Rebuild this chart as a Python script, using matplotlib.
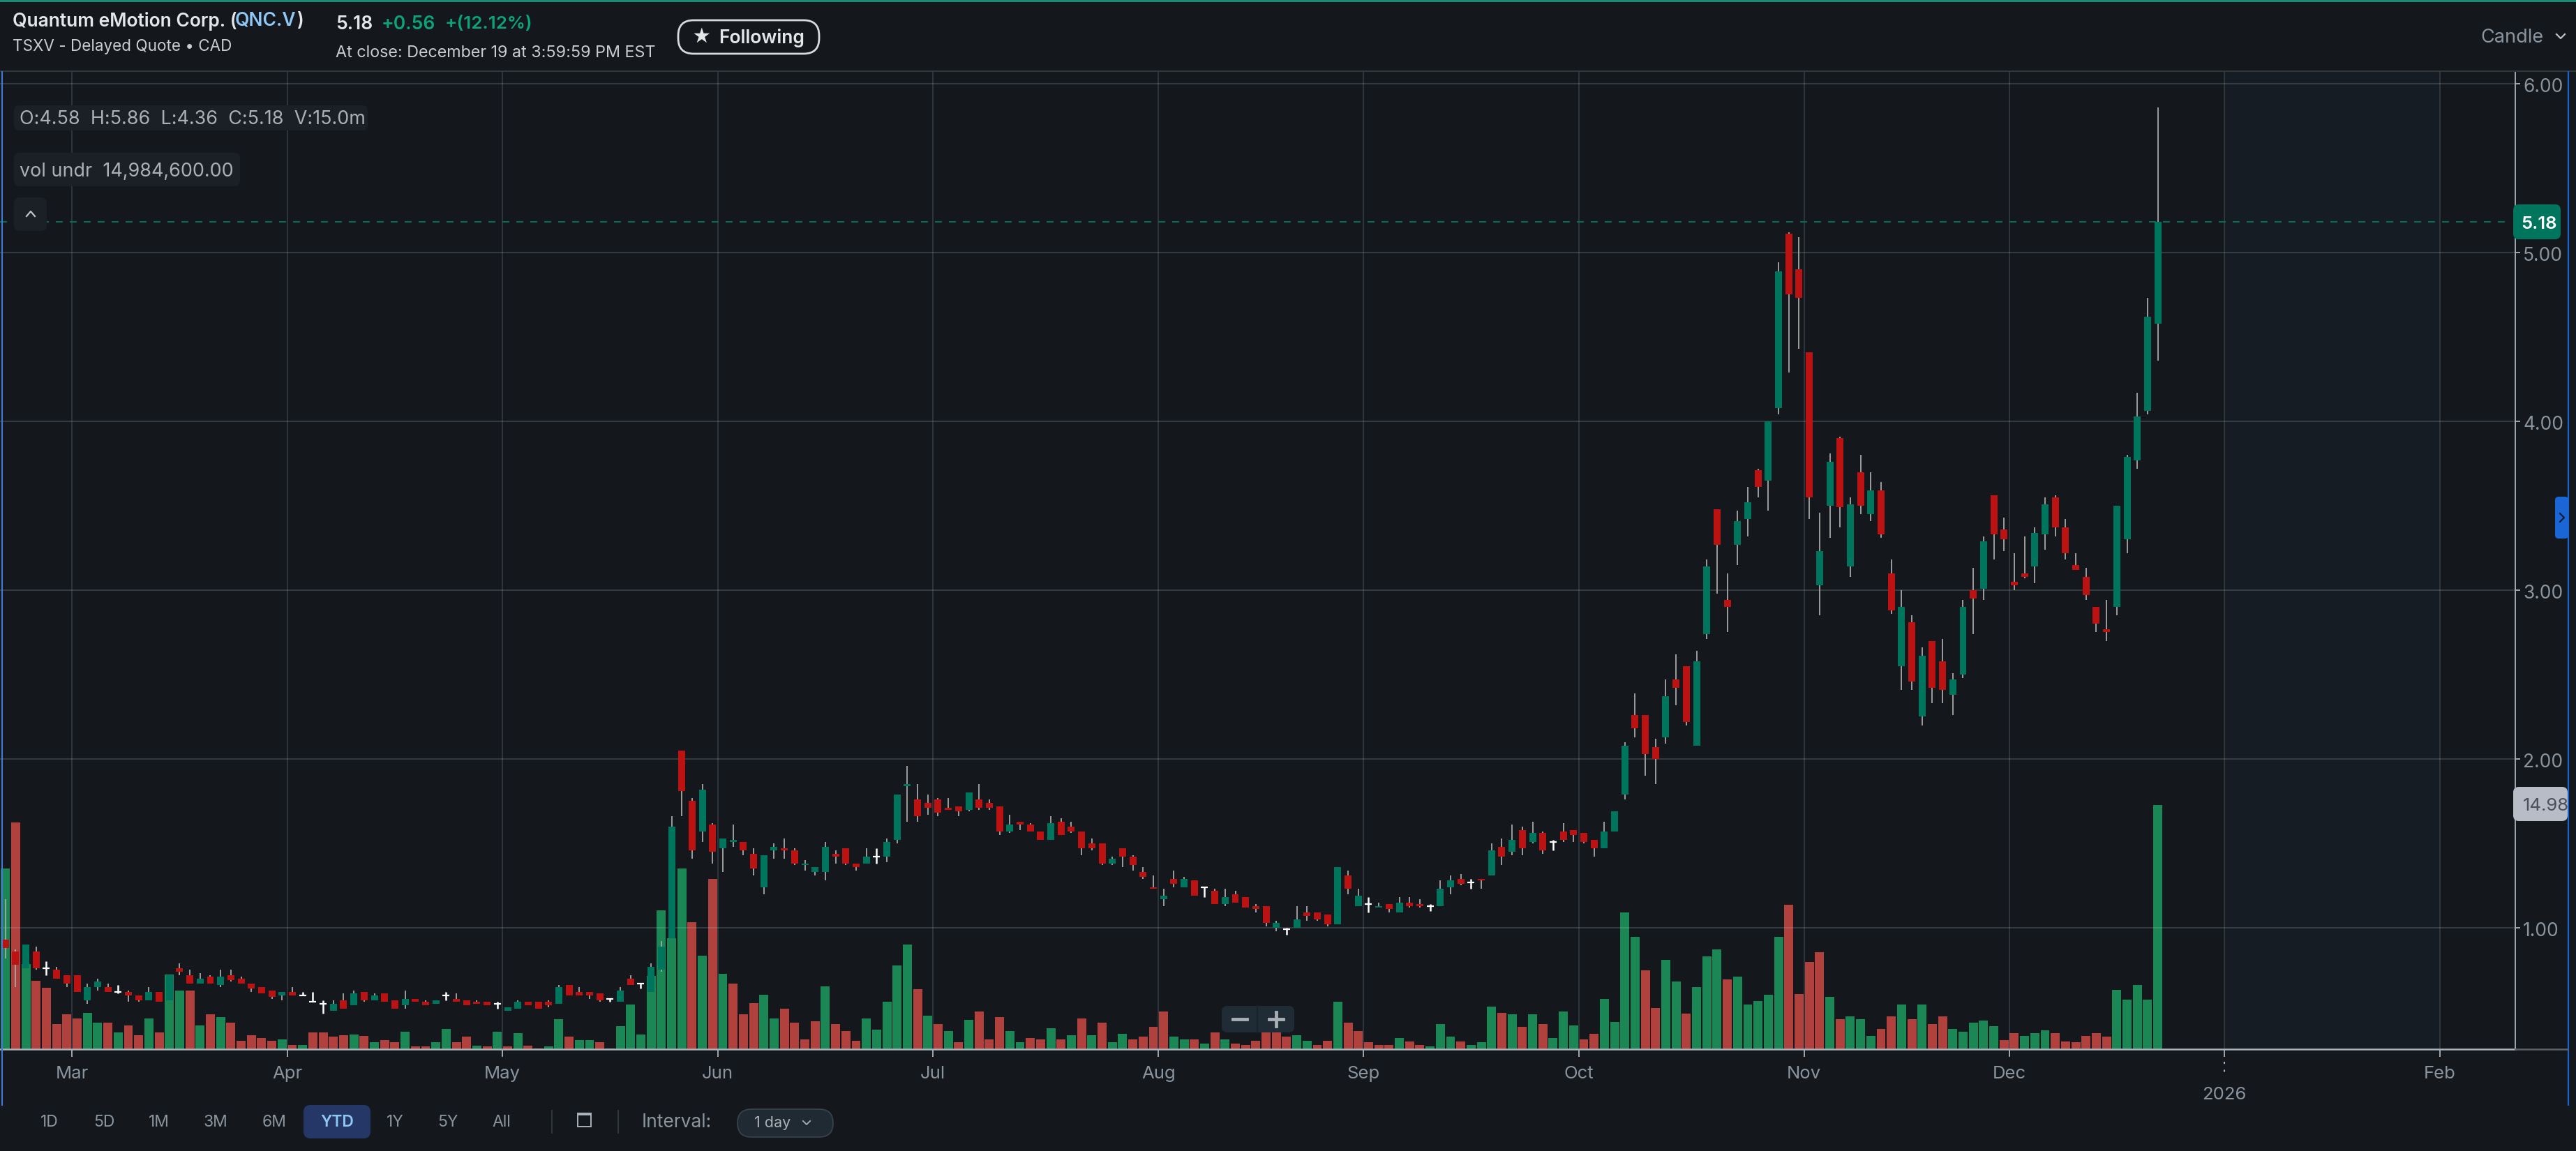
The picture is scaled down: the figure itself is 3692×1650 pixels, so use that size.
import matplotlib
matplotlib.use("Agg")
import matplotlib.pyplot as plt
from matplotlib.patches import FancyBboxPatch, Rectangle
from matplotlib.transforms import ScaledTranslation

plt.rcParams["font.family"] = ["Inter", "DejaVu Sans"]

# daily candles, 0 = late Feb, last = Dec 19
opens = [
    .93, .86, .76, .86, .76, .75, .72, .72, .57, .65,
    .65, .62, .62, .60, .57, .62, .57, .76, .72, .67,
    .71, .66, .72, .70, .67, .65, .63, .60, .62, .60,
    .56, .55, .51, .57, .54, .62, .57, .61, .57, .54,
    .58, .56, .55, .60, .58, .57, .56, .56, .55, .51,
    .52, .56, .56, .56, .55, .66, .62, .62, .61, .58,
    .56, .70, .67, .62, .75, .94, 2.05, 1.75, 1.57, 1.61,
    1.47, 1.51, 1.51, 1.44, 1.24, 1.46, 1.47, 1.46, 1.37, 1.33,
    1.33, 1.44, 1.47, 1.38, 1.38, 1.42, 1.42, 1.52, 1.84, 1.76,
    1.74, 1.76, 1.71, 1.72, 1.70, 1.76, 1.74, 1.72, 1.57, 1.63,
    1.61, 1.57, 1.52, 1.63, 1.60, 1.57, 1.50, 1.50, 1.38, 1.47,
    1.42, 1.33, 1.24, 1.17, 1.29, 1.24, 1.28, 1.24, 1.22, 1.14,
    1.20, 1.18, 1.13, 1.13, 1.00, .99, 1.00, 1.09, 1.09, 1.08,
    1.02, 1.31, 1.13, 1.14, 1.12, 1.14, 1.09, 1.15, 1.14, 1.13,
    1.13, 1.24, 1.29, 1.27, 1.29, 1.31, 1.48, 1.45, 1.58, 1.51,
    1.56, 1.51, 1.57, 1.58, 1.56, 1.52, 1.47, 1.57, 1.79, 2.26,
    2.26, 2.07, 2.13, 2.47, 2.55, 2.08, 2.74, 3.48, 2.94, 3.27,
    3.42, 3.71, 3.65, 4.08, 5.11, 4.90, 4.41, 3.03, 3.50, 3.90,
    3.14, 3.70, 3.45, 3.59, 3.10, 2.55, 2.81, 2.25, 2.70, 2.58,
    2.38, 2.50, 3.00, 3.01, 3.56, 3.36, 3.05, 3.10, 3.14, 3.33,
    3.55, 3.37, 3.15, 3.08, 2.90, 2.77, 2.90, 3.30, 3.77, 4.06,
    4.58,
]
highs = [
    1.17, .87, .90, .89, .80, .77, .72, .72, .67, .70,
    .67, .66, .63, .60, .65, .62, .72, .79, .75, .73,
    .72, .75, .75, .71, .67, .65, .63, .62, .65, .62,
    .62, .57, .57, .61, .63, .62, .61, .61, .57, .63,
    .58, .57, .57, .62, .61, .57, .57, .56, .56, .53,
    .57, .56, .56, .57, .66, .66, .65, .62, .61, .58,
    .65, .72, .67, .79, .92, 1.66, 2.05, 1.77, 1.85, 1.62,
    1.53, 1.61, 1.51, 1.47, 1.43, 1.50, 1.53, 1.47, 1.40, 1.36,
    1.51, 1.46, 1.47, 1.38, 1.47, 1.47, 1.53, 1.79, 1.96, 1.85,
    1.79, 1.77, 1.77, 1.72, 1.80, 1.85, 1.76, 1.72, 1.67, 1.63,
    1.62, 1.57, 1.66, 1.65, 1.63, 1.57, 1.53, 1.50, 1.42, 1.47,
    1.43, 1.36, 1.31, 1.23, 1.34, 1.30, 1.28, 1.24, 1.23, 1.23,
    1.22, 1.18, 1.14, 1.13, 1.04, 1.00, 1.13, 1.13, 1.09, 1.08,
    1.36, 1.34, 1.23, 1.18, 1.15, 1.14, 1.18, 1.18, 1.17, 1.14,
    1.28, 1.31, 1.32, 1.29, 1.29, 1.50, 1.53, 1.61, 1.60, 1.63,
    1.57, 1.52, 1.62, 1.58, 1.56, 1.52, 1.63, 1.69, 2.10, 2.39,
    2.26, 2.12, 2.47, 2.62, 2.55, 2.64, 3.18, 3.48, 3.10, 3.47,
    3.61, 3.72, 4.00, 4.94, 5.12, 5.09, 4.41, 3.46, 3.81, 3.91,
    3.55, 3.80, 3.70, 3.64, 3.18, 3.00, 2.85, 2.66, 2.70, 2.71,
    2.51, 2.94, 3.13, 3.32, 3.56, 3.43, 3.22, 3.32, 3.37, 3.55,
    3.56, 3.42, 3.22, 3.13, 2.90, 2.94, 3.50, 3.80, 4.17, 4.73,
    5.86,
]
lows = [
    .82, .65, .76, .75, .72, .70, .65, .62, .55, .63,
    .62, .61, .56, .56, .57, .56, .57, .72, .67, .67,
    .67, .65, .68, .67, .62, .61, .58, .57, .60, .60,
    .56, .49, .51, .52, .54, .56, .57, .56, .52, .52,
    .56, .54, .55, .57, .56, .54, .55, .54, .52, .51,
    .52, .54, .52, .53, .55, .60, .60, .58, .56, .56,
    .56, .66, .64, .62, .74, .94, 1.66, 1.41, 1.51, 1.38,
    1.33, 1.48, 1.43, 1.31, 1.20, 1.41, 1.41, 1.37, 1.34, 1.31,
    1.28, 1.38, 1.37, 1.34, 1.38, 1.38, 1.39, 1.50, 1.63, 1.63,
    1.67, 1.66, 1.70, 1.66, 1.69, 1.70, 1.70, 1.55, 1.56, 1.58,
    1.57, 1.52, 1.52, 1.55, 1.56, 1.43, 1.46, 1.37, 1.37, 1.36,
    1.34, 1.29, 1.23, 1.13, 1.24, 1.24, 1.19, 1.18, 1.14, 1.13,
    1.15, 1.12, 1.09, 1.01, .98, .96, 1.00, 1.04, 1.04, 1.01,
    1.02, 1.20, 1.13, 1.09, 1.12, 1.09, 1.09, 1.12, 1.12, 1.10,
    1.13, 1.20, 1.25, 1.23, 1.23, 1.31, 1.37, 1.43, 1.43, 1.50,
    1.44, 1.46, 1.51, 1.51, 1.50, 1.42, 1.47, 1.57, 1.76, 2.13,
    1.90, 1.85, 2.09, 2.32, 2.20, 2.08, 2.71, 2.98, 2.75, 3.15,
    3.32, 3.55, 3.47, 4.04, 4.29, 4.43, 3.42, 2.85, 3.31, 3.37,
    3.08, 3.45, 3.41, 3.31, 2.86, 2.41, 2.41, 2.20, 2.33, 2.33,
    2.26, 2.48, 2.74, 2.94, 3.18, 3.23, 3.00, 3.07, 3.04, 3.24,
    3.32, 3.18, 3.12, 2.94, 2.75, 2.70, 2.85, 3.22, 3.72, 4.04,
    4.36,
]
closes = [
    .88, .78, .90, .76, .76, .70, .67, .62, .65, .68,
    .62, .62, .60, .57, .62, .56, .72, .74, .67, .70,
    .67, .71, .69, .67, .64, .61, .59, .62, .60, .60,
    .56, .55, .55, .52, .61, .57, .60, .56, .52, .58,
    .56, .54, .57, .60, .56, .54, .55, .54, .55, .53,
    .56, .54, .52, .54, .65, .60, .60, .60, .57, .58,
    .63, .66, .67, .77, .89, 1.60, 1.81, 1.46, 1.82, 1.45,
    1.53, 1.52, 1.46, 1.35, 1.43, 1.48, 1.46, 1.38, 1.38, 1.36,
    1.48, 1.42, 1.38, 1.36, 1.42, 1.42, 1.51, 1.79, 1.85, 1.66,
    1.71, 1.68, 1.70, 1.69, 1.80, 1.71, 1.71, 1.57, 1.61, 1.61,
    1.57, 1.52, 1.62, 1.55, 1.57, 1.47, 1.47, 1.38, 1.41, 1.42,
    1.37, 1.30, 1.23, 1.19, 1.26, 1.29, 1.19, 1.24, 1.14, 1.18,
    1.15, 1.12, 1.11, 1.03, 1.03, .99, 1.05, 1.07, 1.05, 1.02,
    1.36, 1.23, 1.19, 1.14, 1.13, 1.11, 1.15, 1.13, 1.13, 1.13,
    1.23, 1.28, 1.26, 1.27, 1.28, 1.46, 1.42, 1.52, 1.47, 1.56,
    1.46, 1.51, 1.52, 1.55, 1.51, 1.47, 1.57, 1.69, 2.08, 2.18,
    2.03, 2.00, 2.37, 2.42, 2.22, 2.58, 3.14, 3.27, 2.90, 3.41,
    3.52, 3.61, 4.00, 4.89, 4.75, 4.73, 3.55, 3.23, 3.76, 3.49,
    3.51, 3.50, 3.59, 3.33, 2.88, 2.90, 2.46, 2.61, 2.42, 2.41,
    2.47, 2.90, 2.95, 3.29, 3.33, 3.30, 3.03, 3.08, 3.34, 3.51,
    3.37, 3.22, 3.12, 2.97, 2.80, 2.75, 3.50, 3.79, 4.03, 4.62,
    5.18,
]
# volume in millions, G/R is the colour of each bar
volumes = [
    11.1, 13.9, 5.2, 4.18, 3.75, 1.53, 2.13, 1.87, 2.21, 1.61,
    1.61, 1.01, 1.44, .84, 1.87, 1.01, 4.6, 3.58, 3.58, 1.44,
    2.13, 1.95, 1.61, .5, .84, .67, .5, .58, .24, .24,
    1.01, 1.01, .76, .84, .92, .83, .41, .57, .41, 1.08,
    .15, .15, .41, 1.26, .41, .75, .23, .15, 1.08, .15,
    1.0, .23, .06, .15, 1.86, .75, .57, .57, .41, .06,
    1.43, 2.72, .92, 4.5, 8.5, 6.8, 11.1, 7.77, 5.72, 10.43,
    4.61, 4.01, 2.13, 2.81, 3.32, 1.87, 2.47, 1.61, .58, 1.70,
    3.84, 1.53, 1.10, .5, 1.87, 1.18, 2.90, 5.12, 6.4, 3.67,
    2.04, 1.53, 1.10, .41, 1.78, 2.30, .58, 1.95, 1.10, .41,
    .67, .58, 1.27, .58, .84, 1.87, .84, 1.61, .41, .93,
    .58, .76, 1.36, 2.30, .76, .58, .58, .33, 1.01, .58,
    .33, .24, .5, 1.10, 1.53, .76, .84, .5, .24, .5,
    2.89, 1.61, 1.10, .42, .25, .25, .67, .49, .25, .16,
    1.52, .75, .49, .25, .42, 2.63, 2.21, 2.13, 1.36, 2.13,
    1.52, .67, 2.30, 1.45, .58, .93, 3.07, 1.69, 8.37, 6.91,
    4.85, 2.54, 5.46, 4.17, 2.2, 3.83, 5.7, 6.14, 4.26, 4.43,
    2.72, 2.97, 3.32, 6.9, 8.88, 3.4, 5.37, 5.97, 3.23, 1.86,
    2.03, 1.86, .83, 1.26, 2.03, 2.72, 1.86, 2.72, 1.52, 2.03,
    1.26, 1.09, 1.61, 1.77, 1.43, .57, 1.0, .83, 1.0, 1.17,
    1.0, .48, .41, .83, 1.0, .75, 3.65, 3.05, 3.92, 3.05,
    14.98,
]
volume_sides = (
    "GRGRRRRRGG" "RGRRGRGGRG" "RGRRRRRGRG" "RRRRGRGRRG" "RRGGRRGRGR"
    "GRRGGRGGRG" "GGGGGGGRGR" "GRRRGGRRRR" "GRRRGGGGGR" "GRGRGRRRGG"
    "RRGRGRGRGG" "RRRRGGRGRG" "RRRRRRGGRR" "GRRRRRGRRG" "GGRGGGRGRG"
    "RGGGRRGGGG" "RRGGRGGGRG" "GGGGRRRRGR" "GGGRRGRGRR" "GGGGGRRGGG"
    "RRRRRRGGGG" "G"
)
# month gridlines sit between two sessions
month_pos = [6.5, 27.5, 48.5, 69.5, 90.5, 112.5, 132.5, 153.5, 175.5, 195.5, 216.5, 237.5]
month_labels = ["Mar", "Apr", "May", "Jun", "Jul", "Aug", "Sep", "Oct", "Nov", "Dec", "", "Feb"]
price_ticks = [1, 2, 3, 4, 5, 6]
ranges = ["1D", "5D", "1M", "3M", "6M", "YTD", "1Y", "5Y", "All"]

BG = "#14181d"
UP = "#00755d"
DOWN = "#bd1212"
VOL_UP = "#1b8755"
VOL_DOWN = "#b0413d"
MUTED = "#8a949e"
AXIS = "#a9b1ba"

W, H = 3692, 1650
fig = plt.figure(figsize=(W / 100, H / 100), dpi=100, facecolor=BG)
box = [0, (H - 1504) / H, 3605 / W, 1402 / H]

ax_vol = fig.add_axes(box, zorder=1, facecolor=BG)
ax = fig.add_axes(box, zorder=2, facecolor="none")
for a in (ax, ax_vol):
    a.set_xlim(-0.524, 244.88)
ax_vol.set_ylim(0, 60.0)
ax.set_ylim(0.281, 6.074)

# volume
x = list(range(len(closes)))
ax_vol.axvspan(216.5, 237.5, color="#151c24", lw=0)
ax_vol.bar(x, volumes, width=0.88, lw=0,
           color=[VOL_UP if s == "G" else VOL_DOWN for s in volume_sides])
ax_vol.set_xticks([])
ax_vol.set_yticks([])
for s in ax_vol.spines.values():
    s.set_visible(False)

# candles
body_x, body_h, body_b, body_c = [], [], [], []
wick_x, wick_lo, wick_hi = [], [], []
doji_x, doji_lo, doji_hi, doji_y = [], [], [], []
for i in x:
    o, h, l, c = opens[i], highs[i], lows[i], closes[i]
    if o == c:
        doji_x.append(i)
        doji_lo.append(l)
        doji_hi.append(h)
        doji_y.append(c)
        continue
    wick_x.append(i)
    wick_lo.append(l)
    wick_hi.append(h)
    body_x.append(i)
    body_b.append(min(o, c))
    body_h.append(abs(c - o))
    body_c.append(UP if c > o else DOWN)
ax.vlines(wick_x, wick_lo, wick_hi, color="#a8a8a8", lw=1.3, zorder=3)
ax.bar(body_x, body_h, bottom=body_b, width=0.68, color=body_c, lw=0, zorder=4)
ax.vlines(doji_x, doji_lo, doji_hi, color="white", lw=1.8, zorder=4)
ax.hlines(doji_y, [i - 0.34 for i in doji_x], [i + 0.34 for i in doji_x], color="white", lw=1.6, zorder=4)

ax.axhline(closes[-1], color="#0b6a56", lw=1.5, dashes=(4.8, 4.8), xmax=3596 / 3605, zorder=2)

# axes, grid
ax.set_axisbelow(True)
ax.grid(True, axis="x", color="#a9c4d0", alpha=0.19, lw=1.3)
ax.grid(True, axis="y", color="#a9c4c8", alpha=0.2, lw=1.5)
ax.yaxis.tick_right()
ax.set_yticks(price_ticks, [f"{p:.2f}" for p in price_ticks])
ax.set_xticks(month_pos, month_labels)
ax.tick_params(axis="y", length=5, width=1.3, color=AXIS, labelcolor=MUTED, labelsize=19, pad=3)
ax.tick_params(axis="x", length=8, width=1.3, color=AXIS, labelcolor=MUTED, labelsize=18.5, pad=9)
for t in ax.get_yticklabels():
    t.set_transform(t.get_transform() + ScaledTranslation(0, -1.5 / 72, fig.dpi_scale_trans))
for name, s in ax.spines.items():
    s.set_visible(name in ("right", "bottom"))
    s.set_color(AXIS)
    s.set_linewidth(1.8 if name == "bottom" else 1.3)

# 2026 label under its dotted tick
xt = ax.get_xaxis_transform()
ax.plot([216.5, 216.5], [-18 / 1402, -36 / 1402], transform=xt, clip_on=False,
        color=AXIS, lw=1.5, ls=(0, (1.5, 4)))
ax.text(216.5, -65 / 1402, "2026", transform=xt, color=MUTED, fontsize=18.5,
        ha="center", va="center")

# everything around the chart, in screen pixels
ov = fig.add_axes([0, 0, 1, 1], zorder=3, facecolor="none")
ov.set_xlim(0, W)
ov.set_ylim(H, 0)
ov.axis("off")


def label(px, py, s, size, color="#e4e6e8", weight="normal", ha="left", **kw):
    return ov.text(px, py + 2, s, fontsize=size, color=color, fontweight=weight, ha=ha, va="center", **kw)


def chip(x0, y0, x1, y1, color, r=8, ec="none", lw=0):
    ov.add_patch(FancyBboxPatch((x0 + r, y0 + r), x1 - x0 - 2 * r, y1 - y0 - 2 * r,
                                boxstyle=f"round,pad={r},rounding_size={r}",
                                fc=color, ec=ec, lw=lw))


ov.add_patch(Rectangle((0, 0), W, 3, fc="#1a8a72", lw=0))
ov.plot([0, W], [102, 102], color="#2f3639", lw=1.5)
ov.plot([3, 3], [103, 1584], color="#3f78d8", lw=1.5)
ov.plot([3681, 3681], [103, 1584], color="#1a66d6", lw=1.5)
ov.plot([3605, 3680], [1504, 1504], color="#5c6165", lw=1.8)

label(18, 28, "Quantum eMotion Corp. (", 19, weight="semibold")
label(337, 28, "QNC.V", 19, color="#8fc7f5", weight="semibold")
label(425, 28, ")", 19, weight="semibold")
label(18, 65, "TSXV - Delayed Quote • CAD", 16.2, color="#c9cdd2")
label(481, 33, "5.18", 19, weight="semibold")
label(547, 33, "+0.56", 19, color="#0aa37a", weight="semibold")
label(638, 33, "+(12.12%)", 18.7, color="#0aa37a", weight="semibold")
label(481, 74, "At close: December 19 at 3:59:59 PM EST", 16.8, color="#c9cdd2")
chip(972, 29, 1174, 77, BG, r=22, ec="#d8dbde", lw=2)
label(1005, 52, "★", 19, ha="center")
label(1030, 53, "Following", 19, weight="semibold")
label(3555, 52, "Candle", 19.5, color=MUTED)
ov.plot([3664, 3670, 3676], [49, 55, 49], color="#c0c4c8", lw=1.6)

chip(20, 151, 527, 187, "#1a2026")
label(28, 169, "O:4.58  H:5.86  L:4.36  C:5.18  V:15.0m", 19.4, color="#aab0b6")
chip(20, 219, 344, 267, "#1a2026")
label(28, 244, "vol undr  14,984,600.00", 19.4, color="#aab0b6")
chip(20, 283, 67, 331, "#1a2026")
ov.plot([38, 44, 50], [310, 303, 310], color="#c0c4c8", lw=1.6)

chip(3602, 293, 3670, 343, UP)
label(3639, 319, "5.18", 18.5, color="white", weight="semibold", ha="center")
chip(3602, 1128, 3680, 1177, "#b8bcc6")
label(3616, 1153, "14.98", 18.5, color="#4a5058")
chip(3662, 712, 3681, 772, "#1a66d6", r=5)
ov.plot([3669, 3675, 3669], [736, 742, 748], color="#0c1a2e", lw=1.5)

chip(1751, 1442, 1855, 1480, "#1f2c36")
ov.plot([1802, 1802], [1442, 1480], color="#182229", lw=1.5)
ov.plot([1767, 1787], [1461, 1461], color="#a7adb3", lw=3.5)
ov.plot([1819, 1839], [1461, 1461], color="#a7adb3", lw=3.5)
ov.plot([1829, 1829], [1451, 1471], color="#a7adb3", lw=3.5)

range_x = [71, 149, 228, 309, 393, 483, 566, 642, 719]
chip(435, 1584, 531, 1632, "#253766", r=10)
for px, r in zip(range_x, ranges):
    label(px, 1607, r, 16.5, color="#8fc7f5" if r == "YTD" else MUTED, ha="center",
          weight="semibold" if r == "YTD" else "normal")
ov.plot([791, 791], [1592, 1624], color="#2f3639", lw=1.5)
ov.plot([886, 886], [1592, 1624], color="#2f3639", lw=1.5)
ov.add_patch(Rectangle((828, 1596), 19, 19, fc="none", ec=AXIS, lw=1.4))
ov.add_patch(Rectangle((828, 1596), 19, 3, fc=AXIS, lw=0))
label(920, 1607, "Interval:", 19, color=MUTED)
chip(1057, 1590, 1194, 1630, "#1f2a33", r=20, ec="#3a444c", lw=1.2)
label(1107, 1608, "1 day", 15.5, color="#aab0b6", ha="center")
ov.plot([1151, 1156, 1161], [1607, 1612, 1607], color="#aab0b6", lw=1.3)

fig.savefig("out.png", dpi=100, facecolor=BG)
